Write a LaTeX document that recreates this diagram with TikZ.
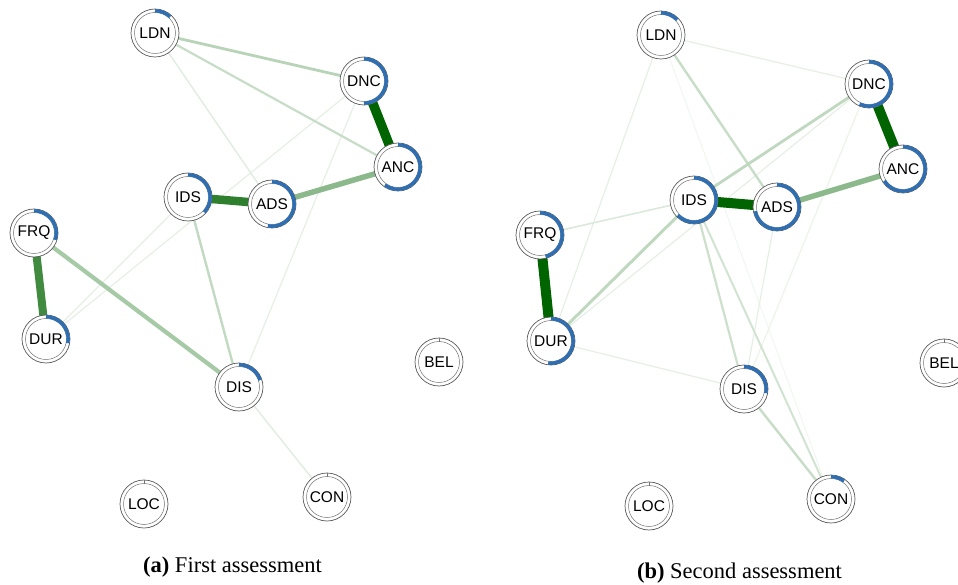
\documentclass[tikz,border=0pt]{standalone}
\usepackage{fontspec}
\setmainfont{Liberation Serif}
\setsansfont{Liberation Sans}
\pgfdeclarelayer{edges}
\pgfsetlayers{edges,main}
\definecolor{eg}{RGB}{0,100,0}
\definecolor{pieblue}{RGB}{46,110,178}
\tikzset{
  vert/.style={circle, draw=black!65, line width=0.7pt, fill=white,
    minimum size=48pt, inner sep=0pt, font=\sffamily\fontsize{15.5}{15.5}\selectfont},
  lnk/.style 2 args={line width=#1pt, draw=eg!#2!white},
  captext/.style={font=\fontsize{22.5}{26}\selectfont}
}
\newcommand\mynode[5]{%
  \node[vert] (#1) at (#2,#3) {#4};
  \draw[black!55, line width=0.5pt] (#1.center) circle[radius=20.5pt];
  \ifdim #5pt>0pt
    \draw[pieblue, line width=3.4pt] ([shift={(90:22.2pt)}]#1.center)
      arc[start angle=90, end angle={90-360*#5}, radius=22.2pt];
  \else
    \draw[black!55, line width=0.6pt] ([shift={(90:20.5pt)}]#1.center) -- ([shift={(90:24pt)}]#1.center);
  \fi
}
\begin{document}
\begin{tikzpicture}[x=1pt,y=-1pt]
\useasboundingbox (0,0) rectangle (958,585);
% ---------- panel (a) ----------
\mynode{aLDN}{155}{33}{LDN}{0.12}
\mynode{aDNC}{364}{81}{DNC}{0.5}
\mynode{aANC}{398}{167}{ANC}{0.6}
\mynode{aIDS}{188}{197}{IDS}{0.37}
\mynode{aADS}{272}{204}{ADS}{0.53}
\mynode{aFRQ}{34}{233}{FRQ}{0.3}
\mynode{aDUR}{46}{339}{DUR}{0.28}
\mynode{aDIS}{239}{387}{DIS}{0.2}
\mynode{aBEL}{439}{362}{BEL}{0}
\mynode{aLOC}{144}{504}{LOC}{0}
\mynode{aCON}{327}{497}{CON}{0}
% ---------- panel (b) ----------
\mynode{bLDN}{661}{35}{LDN}{0.13}
\mynode{bDNC}{869}{84}{DNC}{0.57}
\mynode{bANC}{903}{169}{ANC}{0.66}
\mynode{bIDS}{694}{200}{IDS}{0.63}
\mynode{bADS}{777}{207}{ADS}{0.72}
\mynode{bFRQ}{540}{235}{FRQ}{0.46}
\mynode{bDUR}{551}{341}{DUR}{0.52}
\mynode{bDIS}{744}{389}{DIS}{0.28}
\mynode{bBEL}{944}{363}{BEL}{0}
\mynode{bLOC}{649}{506}{LOC}{0}
\mynode{bCON}{831}{499}{CON}{0.1}
\begin{pgfonlayer}{edges}
% panel (a) edges
\draw[lnk={1.2}{10}] (aDNC.center) -- (aDUR.center);
\draw[lnk={1.2}{10}] (aIDS.center) -- (aDUR.center);
\draw[lnk={1.2}{10}] (aDNC.center) -- (aDIS.center);
\draw[lnk={1.4}{12}] (aDIS.center) -- (aCON.center);
\draw[lnk={1.4}{12}] (aLDN.center) -- (aADS.center);
\draw[lnk={2.2}{22}] (aLDN.center) -- (aANC.center);
\draw[lnk={2.4}{24}] (aIDS.center) -- (aDIS.center);
\draw[lnk={2.8}{28}] (aLDN.center) -- (aDNC.center);
\draw[lnk={4.2}{35}] (aFRQ.center) -- (aDIS.center);
\draw[lnk={5.5}{45}] (aADS.center) -- (aANC.center);
\draw[lnk={8}{75}] (aFRQ.center) -- (aDUR.center);
\draw[lnk={8.5}{82}] (aIDS.center) -- (aADS.center);
\draw[lnk={9.5}{100}] (aDNC.center) -- (aANC.center);
% panel (b) edges
\draw[lnk={1}{6}] (bLDN.center) -- (bCON.center);
\draw[lnk={1.2}{10}] (bLDN.center) -- (bDNC.center);
\draw[lnk={1.2}{10}] (bLDN.center) -- (bDUR.center);
\draw[lnk={1.2}{10}] (bDNC.center) -- (bDUR.center);
\draw[lnk={1.2}{8}] (bDNC.center) -- (bDIS.center);
\draw[lnk={1.2}{10}] (bADS.center) -- (bDIS.center);
\draw[lnk={1.2}{10}] (bDUR.center) -- (bDIS.center);
\draw[lnk={1.6}{14}] (bIDS.center) -- (bFRQ.center);
\draw[lnk={2}{18}] (bIDS.center) -- (bCON.center);
\draw[lnk={2.2}{20}] (bIDS.center) -- (bDIS.center);
\draw[lnk={2.4}{22}] (bDIS.center) -- (bCON.center);
\draw[lnk={2.4}{22}] (bLDN.center) -- (bADS.center);
\draw[lnk={2.8}{25}] (bDNC.center) -- (bIDS.center);
\draw[lnk={3}{25}] (bIDS.center) -- (bDUR.center);
\draw[lnk={5.5}{45}] (bADS.center) -- (bANC.center);
\draw[lnk={10}{100}] (bFRQ.center) -- (bDUR.center);
\draw[lnk={10}{100}] (bIDS.center) -- (bADS.center);
\draw[lnk={10}{100}] (bDNC.center) -- (bANC.center);
\end{pgfonlayer}
% captions
\node[captext] (capA) at (232.5,567) {\textbf{(a)} First assessment};
\node[captext] (capB) at (739.5,573) {\textbf{(b)} Second assessment};
\end{tikzpicture}
\end{document}
